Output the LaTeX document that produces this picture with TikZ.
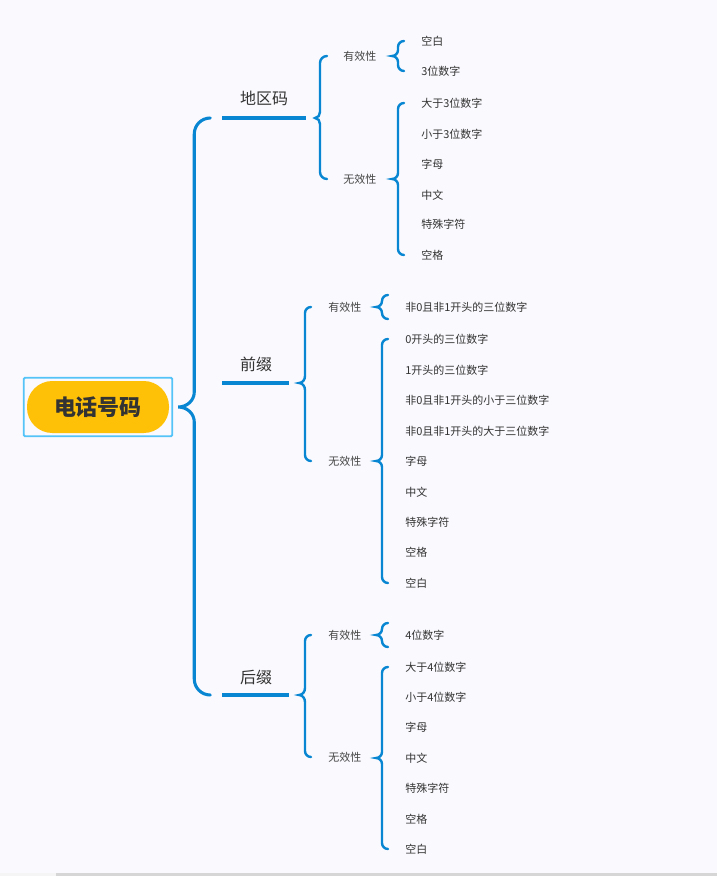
\documentclass[tikz,border=0pt]{standalone}
\usepackage{fontspec}
\setmainfont{Noto Sans CJK SC}
\usetikzlibrary{calc}
\definecolor{bg}{RGB}{249,249,254}
\definecolor{blu}{RGB}{8,134,210}
\definecolor{txt}{RGB}{51,51,51}
\definecolor{amber}{RGB}{255,193,7}
\definecolor{rootbd}{RGB}{84,196,248}
\newcommand\brc[7]{%
\draw[#1] let \p1=(#2), \p2=(#3), \p3=(#4) in
 (\x1+#5*0.75pt+#6*0.75pt, \y2) to[out=180,in=90] (\x1+#5*0.75pt, \y2-#6*0.75pt)
 -- (\x1+#5*0.75pt, \y1+#7*0.75pt) to[out=-90,in=0] (\x1,\y1) to[out=0,in=90] (\x1+#5*0.75pt, \y1-#7*0.75pt)
 -- (\x1+#5*0.75pt, \y3+#6*0.75pt) to[out=-90,in=180] (\x1+#5*0.75pt+#6*0.75pt, \y3);
}
\tikzset{
  mainbr/.style={draw=blu, line width=2.3pt, line cap=round},
  subbr/.style={draw=blu, line width=1.8pt, line cap=round},
  ul/.style={draw=blu, line width=2.3pt},
  rootpill/.style={fill=amber, rounded corners=19pt, minimum width=106.5pt, minimum height=39pt, inner sep=0pt,
    font=\fontsize{16.5}{18}\selectfont\bfseries, text=txt},
  l1/.style={font=\fontsize{12}{14}\selectfont, text=txt, inner sep=0pt},
  l2/.style={font=\fontsize{8.25}{10}\selectfont, text=txt!90, inner sep=0pt, anchor=west},
  leaf/.style={font=\fontsize{8.25}{10}\selectfont, text=txt, inner sep=0pt, anchor=west},
}
\begin{document}
\begin{tikzpicture}[x=0.75pt,y=-0.75pt]
\fill[bg] (0,0) rectangle (717,876);
\useasboundingbox (0,0) rectangle (717,876);
\fill[black!4] (0,873) rectangle (56,876);
\fill[black!16] (56,873) rectangle (717,876);

% root
\node[rootpill] (root) at (98,407) {电话号码};
\draw[rootbd, line width=1.4pt, rounded corners=1pt] ($(root.south west)+(-3,3)$) rectangle ($(root.north east)+(3,-3)$);
\coordinate (rt) at ($(root.east)+(9,0)$);

% level 1
\node[l1] (a) at (264,98) {地区码};
\coordinate (aw) at (222,118); \coordinate (ae) at (306,118);
\node[l1] (b) at (256,364) {前缀};
\coordinate (bw) at (222,383); \coordinate (be) at (289,383);
\node[l1] (c) at (256,677) {后缀};
\coordinate (cw) at (222,695); \coordinate (ce) at (289,695);
\draw[ul] (aw) -- (ae);
\draw[ul] (bw) -- (be);
\draw[ul] (cw) -- (ce);
\brc{mainbr}{rt}{aw}{cw}{16}{16}{15}

% 地区码
\coordinate (at) at ($(ae)+(9,0)$);
\node[l2] (a1) at (343,56) {有效性};
\node[l2] (a2) at (343,179) {无效性};
\brc{subbr}{at}{a1}{a2}{5}{7}{6}
\coordinate (at1) at (392,56);
\node[leaf] (a11) at (421,41) {空白};
\node[leaf] (a12) at (421,71) {3位数字};
\brc{subbr}{at1}{a11}{a12}{6}{6}{6}
\coordinate (at2) at (392,179);
\node[leaf] (a21) at (421,103) {大于3位数字};
\node[leaf] (a22) at (421,134) {小于3位数字};
\node[leaf] (a23) at (421,164) {字母};
\node[leaf] (a24) at (421,195) {中文};
\node[leaf] (a25) at (421,224) {特殊字符};
\node[leaf] (a26) at (421,255) {空格};
\brc{subbr}{at2}{a21}{a26}{6}{6}{6}

% 前缀
\coordinate (bt) at ($(be)+(10,0)$);
\node[l2] (b1) at (328,307) {有效性};
\node[l2] (b2) at (328,461) {无效性};
\brc{subbr}{bt}{b1}{b2}{6}{6}{7}
\coordinate (bt1) at (376,307);
\node[leaf] (b11) at (405,307) {非0且非1开头的三位数字};
\brc{subbr}{bt1}{$(b11)+(0,-12)$}{$(b11)+(0,12)$}{6}{6}{6}
\coordinate (bt2) at (376,461);
\node[leaf] (b21) at (405,339) {0开头的三位数字};
\node[leaf] (b22) at (405,370) {1开头的三位数字};
\node[leaf] (b23) at (405,400) {非0且非1开头的小于三位数字};
\node[leaf] (b24) at (405,431) {非0且非1开头的大于三位数字};
\node[leaf] (b25) at (405,461) {字母};
\node[leaf] (b26) at (405,492) {中文};
\node[leaf] (b27) at (405,522) {特殊字符};
\node[leaf] (b28) at (405,552) {空格};
\node[leaf] (b29) at (405,583) {空白};
\brc{subbr}{bt2}{b21}{b29}{6}{6}{6}

% 后缀
\coordinate (ct) at ($(ce)+(10,0)$);
\node[l2] (c1) at (328,635) {有效性};
\node[l2] (c2) at (328,757) {无效性};
\brc{subbr}{ct}{c1}{c2}{6}{6}{7}
\coordinate (ct1) at (376,635);
\node[leaf] (c11) at (405,635) {4位数字};
\brc{subbr}{ct1}{$(c11)+(0,-12)$}{$(c11)+(0,12)$}{6}{6}{6}
\coordinate (ct2) at (376,758);
\node[leaf] (c21) at (405,667) {大于4位数字};
\node[leaf] (c22) at (405,697) {小于4位数字};
\node[leaf] (c23) at (405,727) {字母};
\node[leaf] (c24) at (405,758) {中文};
\node[leaf] (c25) at (405,788) {特殊字符};
\node[leaf] (c26) at (405,819) {空格};
\node[leaf] (c27) at (405,849) {空白};
\brc{subbr}{ct2}{c21}{c27}{6}{6}{6}
\end{tikzpicture}
\end{document}
